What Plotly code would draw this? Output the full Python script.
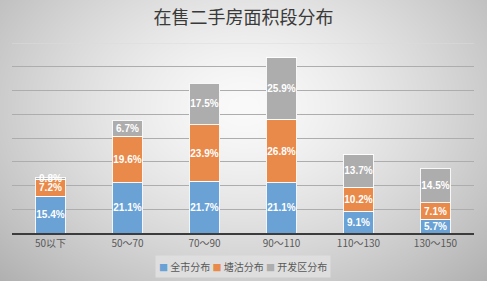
import base64, struct, zlib
import numpy as np
import plotly.graph_objects as go

categories = ["50以下", "50～70", "70～90", "90～110", "110～130", "130～150"]
series_names = ["全市分布", "塘沽分布", "开发区分布"]
city_values = [15.4, 21.1, 21.7, 21.1, 9.1, 5.7]
tanggu_values = [7.2, 19.6, 23.9, 26.8, 10.2, 7.1]
kaifaqu_values = [0.8, 6.7, 17.5, 25.9, 13.7, 14.5]
colors = ["#6aa2d6", "#ea8a4a", "#adadad"]
title_text = "在售二手房面积段分布"

W, H = 487, 281
ML, MR, MT, MB = 12, 13, 43, 48
PW, PH = W - ML - MR, H - MT - MB


def gradient_png():
    yy, xx = np.mgrid[0:H, 0:W].astype(float)
    cx, cy = W * 0.5, H * 0.38
    t = np.sqrt(((xx - cx) / (W * 0.62)) ** 2 + ((yy - cy) / (H * 0.78)) ** 2)
    val = 250 - 62 * np.clip(t, 0, 1.3) ** 1.4
    arr = np.clip(val, 0, 255).astype(np.uint8)
    raw = b"".join(b"\x00" + row.tobytes() for row in arr)

    def chunk(tag, data):
        return (struct.pack(">I", len(data)) + tag + data
                + struct.pack(">I", zlib.crc32(tag + data) & 0xFFFFFFFF))

    png = (b"\x89PNG\r\n\x1a\n"
           + chunk(b"IHDR", struct.pack(">IIBBBBB", W, H, 8, 0, 0, 0, 0))
           + chunk(b"IDAT", zlib.compress(raw, 9))
           + chunk(b"IEND", b""))
    return "data:image/png;base64," + base64.b64encode(png).decode()


fig = go.Figure()
for name, vals, col in zip(series_names, [city_values, tanggu_values, kaifaqu_values], colors):
    fig.add_trace(go.Bar(
        x=categories, y=vals, name=name,
        marker=dict(color=col, line=dict(color="rgba(255,255,255,0.9)", width=1)),
        texttemplate="%{y:.1f}%", textposition="inside", insidetextanchor="middle",
        constraintext="none", textangle=0,
        textfont=dict(color="white", size=10, family="Liberation Sans, Arial, sans-serif", weight="bold"),
        showlegend=False,
    ))

legend_html = " ".join(
    f'<span style="color:{c};font-size:9px">■</span> {n}' for n, c in zip(series_names, colors)
)

fig.update_layout(
    width=W, height=H,
    margin=dict(l=ML, r=MR, t=MT, b=MB, pad=0),
    barmode="stack", bargap=0.6,
    paper_bgcolor="rgba(0,0,0,0)", plot_bgcolor="rgba(0,0,0,0)",
    title=dict(text=title_text, x=0.5, xanchor="center", y=1 - 18 / H, yanchor="middle",
               font=dict(size=18, color="#3a3a3a", family="Noto Sans CJK SC")),
    font=dict(family="Noto Sans CJK SC, Liberation Sans, sans-serif", color="#595959"),
    xaxis=dict(showline=True, linecolor="#3c3c3c", linewidth=2, ticks="",
               tickfont=dict(size=10, color="#595959"), showgrid=False, fixedrange=True),
    yaxis=dict(range=[0, 80], dtick=10, showticklabels=False, showgrid=True,
               gridcolor="#adadad", gridwidth=1, zeroline=False, showline=False),
    images=[dict(source=gradient_png(), xref="paper", yref="paper",
                 x=-ML / PW, y=1 + MT / PH, sizex=W / PW, sizey=H / PH,
                 sizing="stretch", xanchor="left", yanchor="top", layer="below")],
    shapes=[dict(type="line", xref="paper", yref="y", x0=0, x1=1, y0=80, y1=80,
                 line=dict(color="#dcdcdc", width=1), layer="below")],
    annotations=[dict(text=legend_html, xref="paper", yref="paper", x=0.5, y=-33 / PH,
                      xanchor="center", yanchor="middle", showarrow=False,
                      font=dict(size=10, color="#595959"), bgcolor="#dedede",
                      borderpad=3)],
)

fig.write_html("out.html")
